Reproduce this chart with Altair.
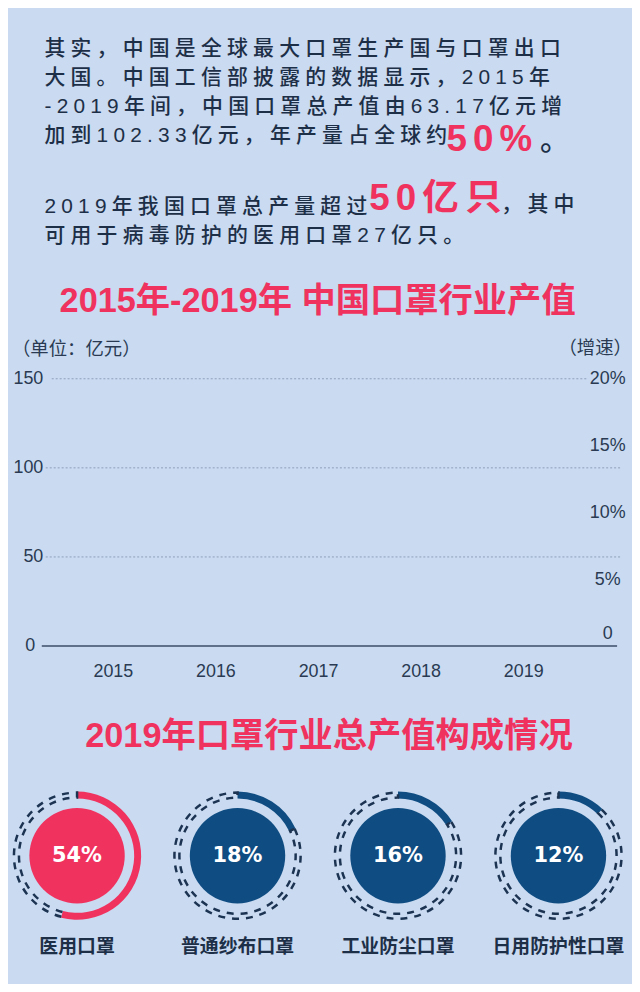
import math
import altair as alt
import pandas as pd

# ---------------- data ----------------
para1_lines = [
    "其实，中国是全球最大口罩生产国与口罩出口",
    "大国。中国工信部披露的数据显示，2015年",
    "-2019年间，中国口罩总产值由63.17亿元增",
    "加到102.33亿元，年产量占全球约",
]
para1_hl = "50%"
para1_end = "。"
para2_a = "2019年我国口罩总产量超过"
para2_hl = "50亿只"
para2_b = "，其中"
para2_c = "可用于病毒防护的医用口罩27亿只。"
title1 = "2015年-2019年 中国口罩行业产值"
unit_left = "（单位：亿元）"
unit_right = "（增速）"

years = ["2015", "2016", "2017", "2018", "2019"]
output_value_shown = [0, 0, 0, 0, 0]  # the picture shows no bars yet
value_ticks = [0, 50, 100, 150]
growth_ticks = [0, 0.05, 0.10, 0.15, 0.20]

title2 = "2019年口罩行业总产值构成情况"
mask_types = ["医用口罩", "普通纱布口罩", "工业防尘口罩", "日用防护性口罩"]
mask_shares = [54, 18, 16, 12]

# ---------------- style ----------------
BG = "#c9daf1"
DARK = "#1d2f47"
AXIS_TXT = "#2a3a52"
RED = "#f0325f"
NAVY = "#0f4c81"
DASH = "#1c3452"
GRID = "#8e9fb9"
ZERO = "#3b4d69"
LATIN = "Liberation Sans, Arial, sans-serif"
LATIN_CJK = "Liberation Sans, Noto Sans CJK SC, sans-serif"
CJK = "Noto Sans CJK SC, sans-serif"
SP_BODY = "\u2005"
SP_BIG = "\u2006"
W = 624


def spaced(s, sp):
    return sp.join(list(s))


def label(text, x, y, size, color, font=LATIN_CJK, weight="normal",
          align="left", baseline="alphabetic"):
    return alt.Chart(pd.DataFrame({"t": [text]})).mark_text(
        align=align, baseline=baseline, font=font, fontSize=size,
        fontWeight=weight, color=color
    ).encode(x=alt.value(x), y=alt.value(y), text="t:N")


# ---------------- panel 1: text ----------------
X0 = 32.7
BW = 500
base_y = [44.5, 73, 102.5, 132]
layers1 = [label(spaced(t, SP_BODY), X0, y, 21, DARK, weight=BW)
           for t, y in zip(para1_lines, base_y)]
layers1 += [
    label(spaced(para1_hl, SP_BIG), 437.2, 140.3, 37, RED, weight="bold"),
    label(para1_end, 531.3, 140, 30, DARK, weight=BW),
    label(spaced(para2_a, SP_BODY), X0, 203.5, 21, DARK, weight=BW),
    label(spaced(para2_hl, SP_BIG), 359.5, 200.3, 37, RED, weight="bold"),
    label(spaced(para2_b, SP_BODY), 492.5, 201, 21, DARK, weight=BW),
    label(spaced(para2_c, SP_BODY), X0, 232.5, 21, DARK, weight=BW),
    label(title1, 307.6, 293, 34.5, RED, weight="bold", align="center", baseline="middle"),
    label(unit_left, 0, 340, 18.5, AXIS_TXT, font=CJK, baseline="middle"),
    label(unit_right, 624, 339, 18.5, AXIS_TXT, font=CJK, align="right", baseline="middle"),
]
panel1 = alt.layer(*layers1).properties(width=W, height=370)

# ---------------- panel 2: bar chart frame ----------------
bar_df = pd.DataFrame({"year": years, "value": output_value_shown})
tick_df = pd.DataFrame({"v": value_ticks})
growth_df = pd.DataFrame({"g": growth_ticks})

yscale = alt.Scale(domain=[0, 150], nice=False)
xscale = alt.Scale(domain=years, paddingInner=0.5, paddingOuter=0.7718, align=0.478, round=False)

bars = alt.Chart(bar_df).mark_bar(color=NAVY).encode(
    x=alt.X("year:N", scale=xscale, sort=years,
            axis=alt.Axis(title=None, labelAngle=0, domain=False, ticks=False, grid=False,
                          labelPadding=17, labelFont=LATIN, labelFontSize=18,
                          labelColor=AXIS_TXT)),
    y=alt.Y("value:Q", scale=yscale, axis=None),
)

grid_main = alt.Chart(tick_df).transform_filter("datum.v > 0 && datum.v < 150").mark_rule(
    strokeDash=[2, 2], color=GRID, strokeWidth=1
).encode(y=alt.Y("v:Q", scale=yscale, axis=None), x=alt.value(34), x2=alt.value(612))

grid_top = alt.Chart(tick_df).transform_filter("datum.v == 150").mark_rule(
    strokeDash=[2, 2], color=GRID, strokeWidth=1
).encode(y=alt.Y("v:Q", scale=yscale, axis=None), x=alt.value(40), x2=alt.value(580))

zero_line = alt.Chart(tick_df).transform_filter("datum.v == 0").mark_rule(
    color=ZERO, strokeWidth=1.5
).encode(y=alt.Y("v:Q", scale=yscale, axis=None), x=alt.value(30), x2=alt.value(609))

ylabels = alt.Chart(tick_df).transform_filter("datum.v > 0").mark_text(
    align="right", baseline="middle", font=LATIN, fontSize=18, color=AXIS_TXT
).encode(y=alt.Y("v:Q", scale=yscale, axis=None), x=alt.value(31.5), text="v:Q")

ylabel0 = alt.Chart(tick_df).transform_filter("datum.v == 0").mark_text(
    align="right", baseline="middle", font=LATIN, fontSize=18, color=AXIS_TXT
).encode(y=alt.Y("v:Q", scale=yscale, axis=None), x=alt.value(23.5), text="v:Q")

growth = alt.Chart(growth_df).mark_point(opacity=0).encode(
    x=alt.value(599),
    y=alt.Y("g:Q", scale=alt.Scale(domain=[0, 0.2], nice=False),
            axis=alt.Axis(orient="right", title=None, values=growth_ticks,
                          labelExpr="datum.value === 0 ? '0' : format(datum.value, '.0%')",
                          domain=False, ticks=False, tickSize=0, grid=False,
                          labelPadding=0, offset=-25, labelAlign="center",
                          labelOffset={"condition": {"test": "datum.value === 0", "value": -13},
                                       "value": 0},
                          labelFont=LATIN, labelFontSize=18, labelColor=AXIS_TXT)),
)

panel2 = alt.layer(
    alt.layer(bars, grid_main, grid_top, zero_line, ylabels, ylabel0), growth
).resolve_scale(y="independent").properties(width=W, height=269)

# ---------------- panel 3: donuts ----------------
donut_df = pd.DataFrame({"name": mask_types, "share": mask_shares})
xs = alt.Scale(type="point", domain=mask_types, padding=0.4319, align=0.4695, round=False)
XD = alt.X("name:N", scale=xs, axis=None)
CY = 211
theta_scale = alt.Scale(domain=[0, 100], range=[0, 2 * math.pi])
color = alt.Color("name:N", scale=alt.Scale(domain=mask_types, range=[RED, NAVY, NAVY, NAVY]),
                  legend=None)

base = alt.Chart(donut_df).transform_calculate(
    start="0", full="100", lab="datum.share + '%'"
)

disc = base.mark_circle(size=4 * 48 * 48, opacity=1).encode(x=XD, y=alt.value(CY), color=color)
arc = base.mark_arc(innerRadius=57.5, outerRadius=64.5).encode(
    x=XD, y=alt.value(CY),
    theta=alt.Theta("start:Q", scale=theta_scale), theta2="share:Q", color=color)
rest = base.mark_arc(innerRadius=58.5, outerRadius=63.5, fill="transparent", stroke=DASH,
                     strokeWidth=2.5, strokeDash=[7, 7]).encode(
    x=XD, y=alt.value(CY),
    theta=alt.Theta("share:Q", scale=theta_scale), theta2="full:Q")
pct = base.mark_text(font="DejaVu Sans", fontWeight="bold", fontSize=21, color="white",
                     baseline="middle").encode(x=XD, y=alt.value(CY), text="lab:N")
names = base.mark_text(font=CJK, fontWeight="bold", fontSize=19, color=DARK,
                       baseline="middle").encode(x=XD, y=alt.value(303), text="name:N")
t2 = label(title2, 319, 91.3, 34.5, RED, weight="bold", align="center", baseline="middle")

panel3 = alt.layer(t2, disc, arc, rest, pct, names).properties(width=W, height=337)

chart = alt.vconcat(panel1, panel2, panel3, spacing=0, bounds="flush").properties(
    background=BG, padding=0
).configure_view(stroke=None)

chart.save("out.html", embed_options={"renderer": "svg", "actions": False})
